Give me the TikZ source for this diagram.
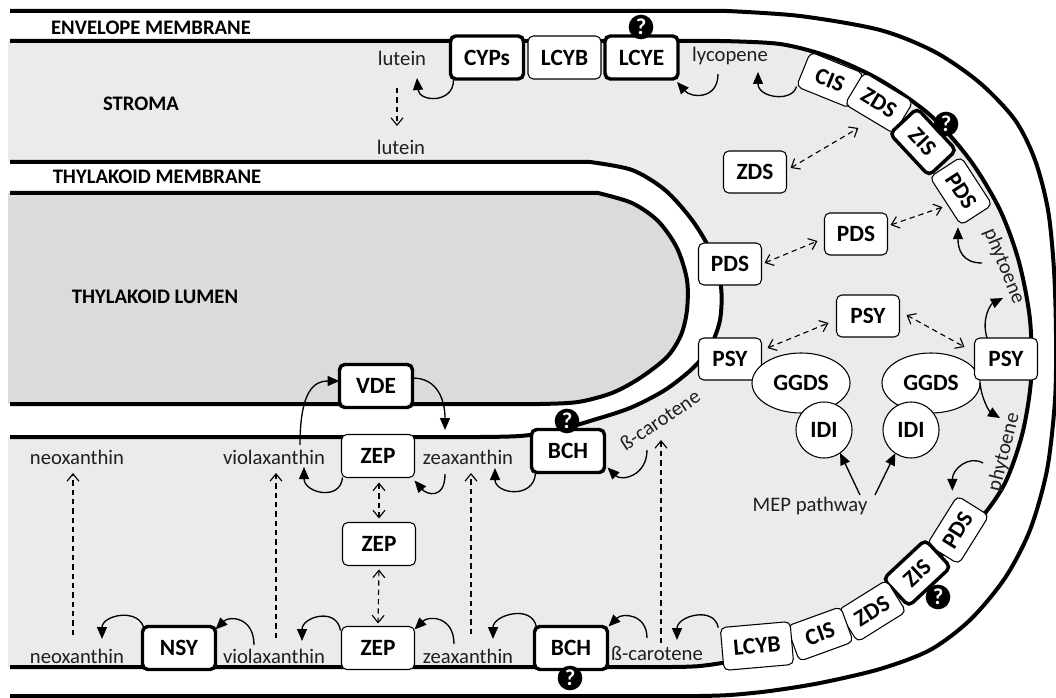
\documentclass[tikz,border=0pt]{standalone}
\usepackage{fontspec}
\setmainfont{Carlito}
\usetikzlibrary{arrows.meta, calc, shapes.geometric}

\definecolor{stromagrey}{RGB}{235,235,235}
\definecolor{lumengrey}{RGB}{219,219,219}

\begin{document}
\begin{tikzpicture}[x=0.75pt,y=-0.75pt]
  \tikzset{EnzymeStyle/.style = {
    shape           = rectangle,
    rounded corners = 4pt,
    draw            = black,
    fill            = white,
    line width      = 0.8pt,
    text            = black,
    font            = \bfseries\fontsize{17.5}{20}\selectfont,
    inner sep       = 0pt,
    outer sep       = 0pt,
    minimum width   = 47.25pt,
    minimum height  = 31.5pt
    }
  }
  \tikzset{KeyEnzymeStyle/.style = {
    EnzymeStyle,
    line width      = 2.6pt
    }
  }
  \tikzset{WideStyle/.style = {
    minimum width   = 54.75pt,
    minimum height  = 32.25pt
    }
  }
  \tikzset{BeltStyle/.style = {
    minimum width   = 43pt,
    minimum height  = 28pt
    }
  }
  \tikzset{SynthaseStyle/.style = {
    shape           = ellipse,
    draw            = black,
    fill            = white,
    line width      = 0.8pt,
    text            = black,
    font            = \bfseries\fontsize{17.5}{20}\selectfont,
    inner sep       = 0pt,
    outer sep       = 0pt,
    minimum width   = 73.5pt,
    minimum height  = 45pt
    }
  }
  \tikzset{IsomeraseStyle/.style = {
    SynthaseStyle,
    shape           = circle,
    minimum size    = 42pt
    }
  }
  \tikzset{ProductStyle/.style = {
    font            = \fontsize{15.5}{18}\selectfont,
    text            = black!88,
    inner sep       = 0pt,
    anchor          = base
    }
  }
  \tikzset{RegionStyle/.style = {
    font            = \bfseries\fontsize{15.5}{18}\selectfont,
    text            = black,
    inner sep       = 0pt
    }
  }
  \tikzset{UnknownStyle/.style = {
    shape           = circle,
    fill            = black,
    text            = white,
    font            = \bfseries\fontsize{17}{17}\selectfont,
    inner sep       = 0pt,
    minimum size    = 18.5pt
    }
  }
  \tikzset{ReactionStyle/.style = {
    draw            = black,
    line width      = 1pt,
    ->,>={Triangle[length=9pt,width=7.5pt]}
    }
  }
  \tikzset{TransferStyle/.style = {
    draw            = black,
    line width      = 0.85pt,
    dash pattern    = on 4pt off 3pt,
    ->,>={Straight Barb[length=5.5pt,width=9pt]}
    }
  }
  \tikzset{ShuttleStyle/.style = {
    TransferStyle,
    <->
    }
  }
  \tikzset{MembraneStyle/.style = {
    draw            = black,
    line width      = 3pt
    }
  }

  \useasboundingbox (0,0) rectangle (1056,698);

  \fill[stromagrey] (8,41) -- plot[smooth] coordinates {(720,41) (780,44) (830,57) (880,80) (930,115) (970,160) (1000,210) (1019,262) (1030,320) (1031,380) (1022,435) (1004,485) (975,525) (935,560) (890,587) (845,612) (797,638) (750,657) (700,666) (650,667)} -- (8,667) -- cycle;
  \fill[white] (8,162) -- plot[smooth] coordinates {(590,162) (632,170) (665,190) (692,220) (711,252) (721,287) (720,320) (710,347) (693,368) (665,390) (630,408) (590,421) (555,431) (520,436) (480,437)} -- (8,437) -- cycle;
  \fill[lumengrey] (8,193) -- plot[smooth] coordinates {(598,193) (632,203) (658,221) (677,248) (687,280) (687,310) (681,335) (667,357) (640,378) (612,393) (578,402) (540,404) (500,404)} -- (8,404) -- cycle;

  \draw[MembraneStyle] (10,11) -- plot[smooth] coordinates {(727,11) (800,16) (880,30) (935,52) (980,83) (1015,120) (1035,160) (1048,210) (1054,270) (1056,335) (1055,400) (1047,470) (1030,530) (1005,578) (970,620) (930,650) (880,669) (820,683) (770,691) (730,695) (700,696)} -- (10,696);
  \draw[MembraneStyle] (10,41) -- plot[smooth] coordinates {(720,41) (780,44) (830,57) (880,80) (930,115) (970,160) (1000,210) (1019,262) (1030,320) (1031,380) (1022,435) (1004,485) (975,525) (935,560) (890,587) (845,612) (797,638) (750,657) (700,666) (650,667)} -- (10,667);
  \draw[MembraneStyle] (10,162) -- plot[smooth] coordinates {(590,162) (632,170) (665,190) (692,220) (711,252) (721,287) (720,320) (710,347) (693,368) (665,390) (630,408) (590,421) (555,431) (520,436) (480,437)} -- (10,437);
  \draw[MembraneStyle] (10,193) -- plot[smooth] coordinates {(598,193) (632,203) (658,221) (677,248) (687,280) (687,310) (681,335) (667,357) (640,378) (612,393) (578,402) (540,404) (500,404)} -- (10,404);

  \node[RegionStyle] (envelope)  at (151,28)  {ENVELOPE MEMBRANE};
  \node[RegionStyle] (stroma)    at (141,104) {STROMA};
  \node[RegionStyle] (thylakoid) at (157,177) {THYLAKOID MEMBRANE};
  \node[RegionStyle] (lumen)     at (155,297) {THYLAKOID LUMEN};

  \node[ProductStyle] (lutA)  at (402,66)  {lutein};
  \node[ProductStyle] (lutB)  at (401,155) {lutein};
  \node[ProductStyle] (lyco)  at (730,62)  {lycopene};
  \node[ProductStyle, anchor=center, rotate=-68] (phyA)  at (1004,266) {phytoene};
  \node[ProductStyle, anchor=center, rotate=76]  (phyB)  at (1004,452) {phytoene};
  \node[ProductStyle, anchor=center, rotate=34]  (betaA) at (660,420)  {ß-carotene};
  \node[ProductStyle] (betaB) at (657,660) {ß-carotene};
  \node[ProductStyle] (neoA)  at (77,464)  {neoxanthin};
  \node[ProductStyle] (violA) at (274,464) {violaxanthin};
  \node[ProductStyle] (zeaA)  at (468,464) {zeaxanthin};
  \node[ProductStyle] (neoB)  at (77,663)  {neoxanthin};
  \node[ProductStyle] (violB) at (274,663) {violaxanthin};
  \node[ProductStyle] (zeaB)  at (468,663) {zeaxanthin};
  \node[ProductStyle] (mep)   at (810,511) {MEP pathway};

  \node[KeyEnzymeStyle, WideStyle] (cyps)  at (487,57.5)   {CYPs};
  \node[EnzymeStyle, WideStyle]    (lcybA) at (564.5,57.5) {LCYB};
  \node[KeyEnzymeStyle, WideStyle] (lcye)  at (641.5,57.5) {LCYE};

  \node[EnzymeStyle, BeltStyle, rotate=-22]    (cisA) at (830,80)  {CIS};
  \node[EnzymeStyle, BeltStyle, rotate=-31]    (zdsA) at (879,103) {ZDS};
  \node[KeyEnzymeStyle, BeltStyle, rotate=-47] (zisA) at (923,142) {ZIS};
  \node[EnzymeStyle, BeltStyle, rotate=-57]    (pdsA) at (961,191) {PDS};

  \node[EnzymeStyle]    (zdsM)  at (755,172)  {ZDS};
  \node[EnzymeStyle]    (pdsM)  at (856,234)  {PDS};
  \node[EnzymeStyle]    (pdsT)  at (730,264)  {PDS};
  \node[EnzymeStyle]    (psyM)  at (868,316)  {PSY};
  \node[EnzymeStyle]    (psyT)  at (730,359)  {PSY};
  \node[SynthaseStyle]  (ggdsL) at (801,383)  {GGDS};
  \node[SynthaseStyle]  (ggdsR) at (931,383)  {GGDS};
  \node[EnzymeStyle]    (psyR)  at (1006,359) {PSY};
  \node[IsomeraseStyle] (idiL)  at (824,430)  {IDI};
  \node[IsomeraseStyle] (idiR)  at (911,430)  {IDI};

  \node[EnzymeStyle, BeltStyle, rotate=58]    (pdsB) at (958,530) {PDS};
  \node[KeyEnzymeStyle, BeltStyle, rotate=43] (zisB) at (917,573) {ZIS};
  \node[EnzymeStyle, BeltStyle, rotate=32]    (zdsB) at (872,611) {ZDS};
  \node[EnzymeStyle, BeltStyle, rotate=20]    (cisB) at (820,634) {CIS};
  \node[EnzymeStyle, WideStyle, minimum width=52.5pt, rotate=5] (lcybB) at (757,646) {LCYB};

  \node[KeyEnzymeStyle, WideStyle] (bchA) at (568,451) {BCH};
  \node[KeyEnzymeStyle, WideStyle] (bchB) at (571,648) {BCH};
  \node[KeyEnzymeStyle, WideStyle] (vde)  at (376,386) {VDE};
  \node[EnzymeStyle, WideStyle]    (zepA) at (378,456) {ZEP};
  \node[EnzymeStyle, WideStyle]    (zepM) at (379,544) {ZEP};
  \node[EnzymeStyle, WideStyle]    (zepB) at (378,648) {ZEP};
  \node[KeyEnzymeStyle, WideStyle] (nsy)  at (179,648) {NSY};

  \node[UnknownStyle] (qLcye) at (641,27)  {?};
  \node[UnknownStyle] (qZisA) at (946,124) {?};
  \node[UnknownStyle] (qZisB) at (938,597) {?};
  \node[UnknownStyle] (qBchA) at (567,421) {?};
  \node[UnknownStyle] (qBchB) at (570,678) {?};

  \draw[ReactionStyle] ($(cyps.south west)+(3,1)$) .. controls +(0,24) and +(2,24) .. ($(lutA.base)+(15,12)$);
  \draw[ReactionStyle] ($(lyco.base)+(-12,12)$) .. controls +(0,26) and +(14,16) .. ($(lcye.south east)+(-1,3)$);
  \draw[ReactionStyle] (cisA.south west) .. controls +(-4,16) and +(0,26) .. ($(lyco.base)+(28,10)$);
  \draw[ReactionStyle] ($(phyA)+(-22,-3)$) .. controls +(-20,0) and +(0,22) .. ($(pdsA.south east)+(-3,2)$);
  \draw[ReactionStyle] ($(psyR.north)+(-19,0)$) .. controls +(-6,-20) and +(-12,6) .. ($(phyA)+(-1,32)$);
  \draw[ReactionStyle] (ggdsR.east) .. controls +(2,18) and +(-10,-6) .. ($(phyB)+(-4,-34)$);
  \draw[ReactionStyle] ($(phyB)+(-21,11)$) .. controls +(-14,-8) and +(0,-22) .. ($(pdsB.north east)+(-5,-5)$);
  \draw[ReactionStyle] ($(lcybB.north west)+(-2,0)$) .. controls +(-4,-22) and +(0,-24) .. ($(betaB.base)+(20,-20)$);
  \draw[ReactionStyle] ($(betaB.base)+(-10,-22)$) .. controls +(0,-24) and +(14,-14) .. ($(bchB.north east)+(1,0)$);
  \draw[ReactionStyle] ($(betaA)+(-13,30)$) .. controls +(0,26) and +(14,14) .. ($(bchA.south east)+(3,-5)$);
  \draw[ReactionStyle] ($(bchA.south west)+(4,1)$) .. controls +(-2,26) and +(0,26) .. ($(zeaA.base)+(27,4)$);
  \draw[ReactionStyle] ($(zeaA.base)+(-23,10)$) .. controls +(0,26) and +(12,14) .. ($(zepA.south east)+(0,3)$);
  \draw[ReactionStyle] ($(zepA.south west)+(1,0)$) .. controls +(-2,24) and +(0,26) .. ($(violA.base)+(30,3)$);
  \draw[ReactionStyle] ($(violA.base)+(26,-19)$) .. controls +(0,-55) and +(-25,0) .. ($(vde.west)+(0,-5)$);
  \draw[ReactionStyle] ($(vde.east)+(0,-8)$) .. controls +(25,0) and +(0,-30) .. ($(zeaA.base)+(-23,-34)$);
  \draw[ReactionStyle] ($(bchB.north west)+(2,1)$) .. controls +(-4,-24) and +(0,-24) .. ($(zeaB.base)+(25,-24)$);
  \draw[ReactionStyle] ($(zeaB.base)+(-14,-19)$) .. controls +(0,-28) and +(14,-14) .. ($(zepB.north east)+(0,3)$);
  \draw[ReactionStyle] ($(zepB.north west)+(-1,4)$) .. controls +(-4,-24) and +(0,-24) .. ($(violB.base)+(28,-22)$);
  \draw[ReactionStyle] ($(violB.base)+(-20,-18)$) .. controls +(0,-28) and +(14,-14) .. ($(nsy.north east)+(0,3)$);
  \draw[ReactionStyle] ($(nsy.north west)+(2,4)$) .. controls +(-4,-24) and +(0,-24) .. ($(neoB.base)+(25,-24)$);
  \draw[ReactionStyle] ($(mep.base)+(50,-16)$) -- (idiL.-55);
  \draw[ReactionStyle] ($(mep.base)+(65,-16)$) -- (idiR.-124);

  \draw[TransferStyle] ($(lutA.base)+(-5,22)$) -- ($(lutB.base)+(-4,-29)$);
  \draw[TransferStyle] ($(neoB.base)+(-4,-28)$) -- ($(neoA.base)+(-4,9)$);
  \draw[TransferStyle] ($(violB.base)+(2,-25)$) -- ($(violA.base)+(2,9)$);
  \draw[TransferStyle] ($(zeaB.base)+(3,-29)$) -- ($(zeaA.base)+(3,9)$);
  \draw[TransferStyle] ($(betaB.base)+(4,-17)$) -- ($(betaA)+(1,20)$);

  \draw[ShuttleStyle] ($(zepA.south)+(1,5)$) -- ($(zepM.north)+(0,-4)$);
  \draw[ShuttleStyle] ($(zepM.south)+(0,4)$) -- ($(zepB.north)+(0,-3)$);
  \draw[ShuttleStyle] ($(zdsM.east)+(4,-4)$) -- ($(zdsA.south)+(-11,9)$);
  \draw[ShuttleStyle] ($(pdsM.east)+(3,-9)$) -- ($(pdsA.south)+(-3,6)$);
  \draw[ShuttleStyle] ($(pdsT.east)+(3,-1)$) -- ($(pdsM.west)+(-7,7)$);
  \draw[ShuttleStyle] ($(psyT.east)+(6,-11)$) -- ($(psyM.west)+(-8,7)$);
  \draw[ShuttleStyle] ($(psyM.east)+(7,-1)$) -- ($(psyR.west)+(-10,-12)$);
\end{tikzpicture}
\end{document}
